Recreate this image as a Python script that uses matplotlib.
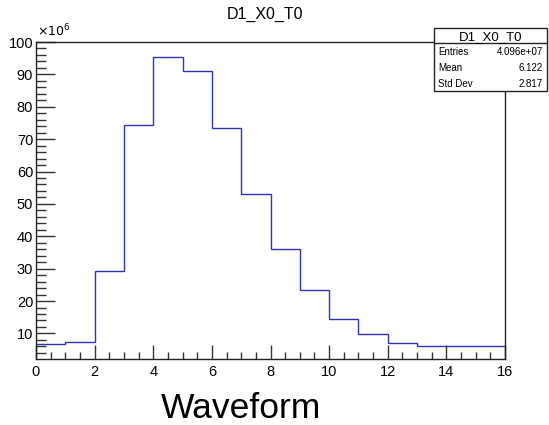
import numpy as np
import matplotlib
matplotlib.use("Agg")
import matplotlib.pyplot as plt
from matplotlib.patches import Rectangle
from matplotlib.ticker import MultipleLocator

plt.rcParams['font.family'] = ['Liberation Sans', 'DejaVu Sans']

# bin contents (in units of 1e6), bins of width 1 from 0 to 16
edges = np.arange(0, 17)
counts = [6.6, 7.4, 29.2, 74.3, 95.5, 91.0, 73.5, 53.2, 36.2, 23.3, 14.6, 9.8, 6.9, 6.2, 6.2, 6.2]
hist_name = "D1_X0_T0"
stats_labels = ["Entries", "Mean", "Std Dev"]
stats_values = ["4.096e+07", "6.122", "2.817"]

fig = plt.figure(figsize=(5.49, 4.25), dpi=100)
ax = fig.add_axes([36/549, 66/425, 469/549, 317/425])

ax.stairs(counts, edges, baseline=None, color='#2f33b8', lw=1.0)
ax.set_xlim(0, 16)
ax.set_ylim(2.1, 100)

ax.xaxis.set_major_locator(MultipleLocator(2))
ax.xaxis.set_minor_locator(MultipleLocator(0.5))
ax.yaxis.set_major_locator(MultipleLocator(10))
ax.yaxis.set_minor_locator(MultipleLocator(2))
ax.set_yticks(np.arange(10, 101, 10))
ax.tick_params(axis='both', which='both', direction='in', top=False, right=False,
               labelsize=10.5, color='#333333')
ax.tick_params(axis='y', which='major', length=14, width=1, pad=2)
ax.tick_params(axis='y', which='minor', length=7, width=1)
ax.tick_params(axis='x', which='major', length=10, width=1, pad=4)
ax.tick_params(axis='x', which='minor', length=5, width=1)
for s in ax.spines.values():
    s.set_linewidth(1.0)
    s.set_color('#222222')

fig.text(37/549, 1 - 36/425, r'$\times10^{6}$', fontsize=9, va='baseline', ha='left')
fig.text(265/549, 1 - 19/425, hist_name, fontsize=11.5, ha='center', va='baseline')
fig.text(241/549, 1 - 418/425, "Waveform", fontsize=25.5, ha='center', va='baseline')

# stats box
bx0, bx1 = 434/549, 547/549
by_top, by_bot, by_sep = 1 - 28/425, 1 - 91/425, 1 - 43/425
fig.patches.append(Rectangle((bx0, by_bot), bx1 - bx0, by_top - by_bot,
                             transform=fig.transFigure, facecolor='white',
                             edgecolor='#222222', lw=1.0, zorder=5))
fig.lines.append(plt.Line2D([bx0, bx1], [by_sep, by_sep], transform=fig.transFigure,
                            color='#222222', lw=1.0, zorder=6))
fig.text((bx0 + bx1) / 2, 1 - 40/425, hist_name, fontsize=9.5, ha='center',
         va='baseline', zorder=7)
for i, (lab, val) in enumerate(zip(stats_labels, stats_values)):
    yb = 1 - (55 + 16 * i) / 425
    fig.text(bx0 + 4/549, yb, lab, fontsize=7, ha='left', va='baseline', zorder=7)
    fig.text(bx1 - 4/549, yb, val, fontsize=7, ha='right', va='baseline', zorder=7)

fig.savefig("out.png", dpi=100)
